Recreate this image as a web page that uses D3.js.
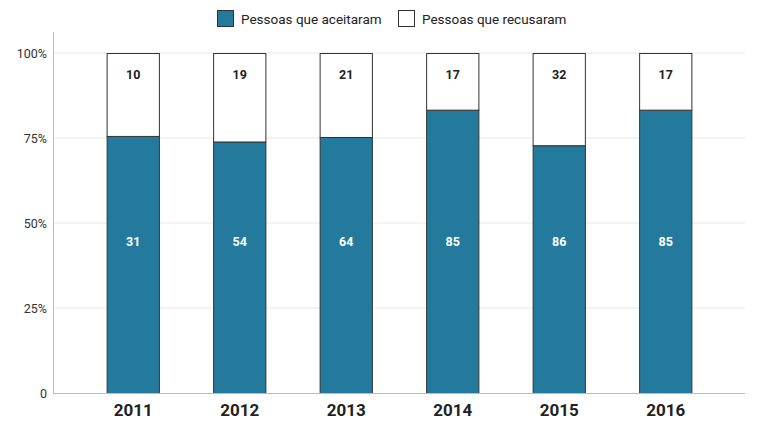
<!DOCTYPE html>
<html>
<head>
<meta charset="utf-8">
<script src="https://cdn.jsdelivr.net/npm/d3@7"></script>
<style>
  html, body { margin: 0; padding: 0; background: #fff; }
  svg { display: block; font-family: Roboto, "Noto Sans", sans-serif; }
</style>
</head>
<body>
<svg id="chart" width="759" height="421"></svg>
<script>
// Years and head counts for each group
const years = ["2011", "2012", "2013", "2014", "2015", "2016"];
const accepted = [31, 54, 64, 85, 86, 85];
const refused = [10, 19, 21, 17, 32, 17];
const seriesNames = ["Pessoas que aceitaram", "Pessoas que recusaram"];
const tickValues = [0, 0.25, 0.5, 0.75, 1];
const tickLabels = ["0", "25%", "50%", "75%", "100%"];

const colors = ["#247a9d", "#ffffff"];

const svg = d3.select("#chart");

const x = d3.scaleBand()
  .domain(years)
  .range([80, 719])
  .paddingInner(0.5)
  .paddingOuter(0.25);

const y = d3.scaleLinear()
  .domain([0, 1])
  .range([393, 53]);

const axisLeftX = 53;
const axisRightX = 745;

// Gridlines
svg.append("g")
  .selectAll("line")
  .data(tickValues.filter(d => d > 0))
  .join("line")
  .attr("x1", axisLeftX)
  .attr("x2", axisRightX)
  .attr("y1", d => y(d))
  .attr("y2", d => y(d))
  .attr("stroke", "#e8e8e8")
  .attr("stroke-width", 1);

// Y axis (tick labels only, plus vertical line)
const yAxis = d3.axisLeft(y)
  .tickValues(tickValues)
  .tickFormat((d, i) => tickLabels[i])
  .tickSize(0)
  .tickPadding(6);

const gy = svg.append("g")
  .attr("transform", `translate(${axisLeftX},0)`)
  .call(yAxis);
gy.select(".domain").remove();
gy.selectAll("text")
  .attr("font-size", 12.5)
  .attr("fill", "#333")
  .attr("font-family", "Roboto, sans-serif");

svg.append("line")
  .attr("x1", axisLeftX + 0.5)
  .attr("x2", axisLeftX + 0.5)
  .attr("y1", 32)
  .attr("y2", y(0))
  .attr("stroke", "#bbb");

// Stack the normalized shares
const rows = years.map((yr, i) => {
  const total = accepted[i] + refused[i];
  return { year: yr, a: accepted[i] / total, r: refused[i] / total, ac: accepted[i], rc: refused[i] };
});
const stack = d3.stack().keys(["a", "r"]);
const series = stack(rows);

const barsG = svg.append("g");
series.forEach((s, si) => {
  barsG.append("g")
    .selectAll("rect")
    .data(s)
    .join("rect")
    .attr("x", d => x(d.data.year) + 0.5)
    .attr("y", d => y(d[1]) + 0.5)
    .attr("width", x.bandwidth() - 1)
    .attr("height", d => y(d[0]) - y(d[1]))
    .attr("fill", colors[si])
    .attr("stroke", "#333")
    .attr("stroke-width", 1);
});

// Baseline
svg.append("line")
  .attr("x1", axisLeftX)
  .attr("x2", axisRightX)
  .attr("y1", y(0) + 0.5)
  .attr("y2", y(0) + 0.5)
  .attr("stroke", "#bbb");

// Value labels
svg.append("g")
  .selectAll("text")
  .data(rows)
  .join("text")
  .attr("x", d => x(d.year) + x.bandwidth() / 2)
  .attr("y", y(0.445))
  .attr("dy", "0.35em")
  .attr("text-anchor", "middle")
  .attr("font-size", 12.5)
  .attr("font-weight", "bold")
  .attr("fill", "#fff")
  .text(d => d.ac);

svg.append("g")
  .selectAll("text")
  .data(rows)
  .join("text")
  .attr("x", d => x(d.year) + x.bandwidth() / 2)
  .attr("y", y(1) + 22)
  .attr("dy", "0.35em")
  .attr("text-anchor", "middle")
  .attr("font-size", 12.5)
  .attr("font-weight", "bold")
  .attr("fill", "#222")
  .text(d => d.rc);

// X axis labels
const xAxis = d3.axisBottom(x).tickSize(0).tickPadding(11);
const gx = svg.append("g")
  .attr("transform", `translate(0,${y(0)})`)
  .call(xAxis);
gx.select(".domain").remove();
gx.selectAll("text")
  .attr("font-size", 17)
  .attr("font-weight", "bold")
  .attr("fill", "#222")
  .attr("font-family", "Roboto, sans-serif");

// Legend
const legendX = [217, 398];
const legend = svg.append("g");
seriesNames.forEach((name, i) => {
  legend.append("rect")
    .attr("x", legendX[i] + 0.5)
    .attr("y", 10.5)
    .attr("width", 16)
    .attr("height", 16)
    .attr("fill", colors[i])
    .attr("stroke", "#333");
  legend.append("text")
    .attr("x", legendX[i] + 24)
    .attr("y", 19)
    .attr("dy", "0.35em")
    .attr("font-size", 13.5)
    .attr("fill", "#222")
    .text(name);
});
</script>
</body>
</html>
